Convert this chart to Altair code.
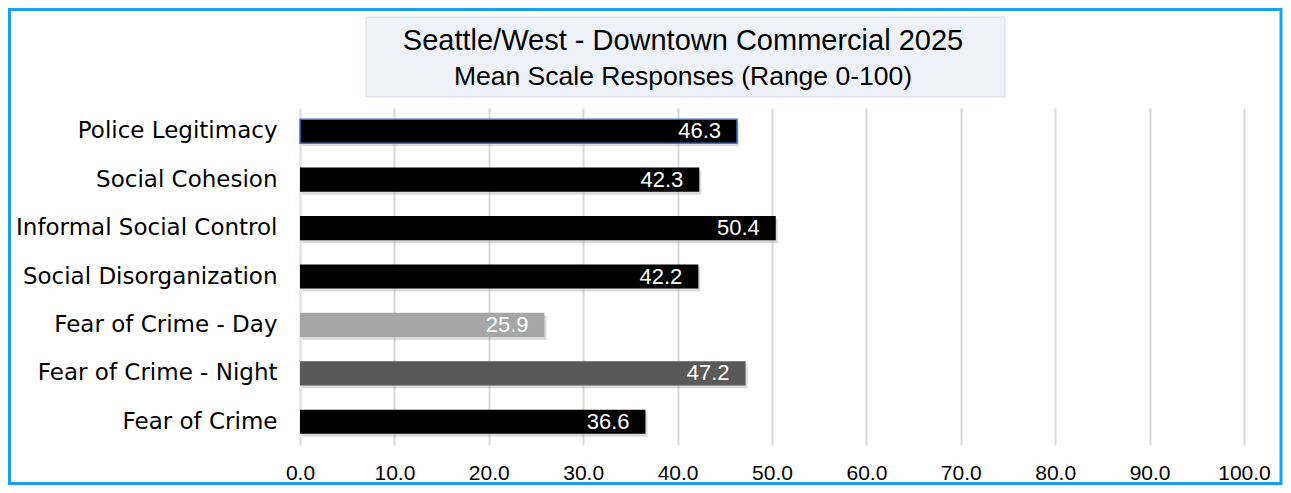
import altair as alt
import pandas as pd

categories = ["Police Legitimacy", "Social Cohesion", "Informal Social Control",
              "Social Disorganization", "Fear of Crime - Day", "Fear of Crime - Night",
              "Fear of Crime"]
values = [46.3, 42.3, 50.4, 42.2, 25.9, 47.2, 36.6]
bar_colors = ["#000000", "#000000", "#000000", "#000000", "#a6a6a6", "#595959", "#000000"]
tick_values = [0, 10, 20, 30, 40, 50, 60, 70, 80, 90, 100]
title_line1 = "Seattle/West - Downtown Commercial 2025"
title_line2 = "Mean Scale Responses (Range 0-100)"

df = pd.DataFrame({"category": categories, "value": values, "color": bar_colors,
                   "label": [f"{v:.1f}" for v in values]})

W, H = 944, 337
LABEL_FONT = "DejaVu Sans"

yscale = alt.Scale(paddingInner=0.5, paddingOuter=0.23)
xenc = alt.X("value:Q", title=None,
             scale=alt.Scale(domain=[0, 100], nice=False),
             axis=alt.Axis(values=tick_values, format=".1f", grid=True,
                           gridColor="#d9d9d9", gridWidth=2, ticks=False,
                           domain=False, labelFont="Liberation Sans", labelFontSize=21,
                           labelColor="#000000", labelPadding=17, labelFlush=False))

base = alt.Chart(df)

shadow = base.mark_bar(color="#9a9a9a", opacity=0.35, xOffset=2, yOffset=3).encode(
    x=xenc, y=alt.Y("category:N", sort=categories, title=None, scale=yscale))

bars = base.mark_bar().encode(
    x=xenc,
    y=alt.Y("category:N", sort=categories, title=None, scale=yscale,
            axis=alt.Axis(labelFont=LABEL_FONT, labelFontSize=23, labelColor="#000000",
                          labelPadding=23, ticks=False, domain=True,
                          domainColor="#dae3f3", domainWidth=1.5, labelLimit=400)),
    color=alt.Color("color:N", scale=None),
    stroke=alt.condition(alt.datum.category == "Police Legitimacy",
                         alt.value("#4472c4"), alt.value("transparent")),
    strokeWidth=alt.value(1.5),
)

labels = base.mark_text(align="right", baseline="middle", dx=-16, color="white",
                        font="Liberation Sans", fontSize=22).encode(
    x="value:Q", y=alt.Y("category:N", sort=categories), text="label:N")

deco = alt.Chart(pd.DataFrame({"t1": [title_line1], "t2": [title_line2]}))

border = deco.mark_rect(fill="white", fillOpacity=0, stroke="#1ba1e8",
                        strokeWidth=3).encode(
    x=alt.value(9.5 - 300), x2=alt.value(1281 - 300),
    y=alt.value(9.5 - 108), y2=alt.value(483.5 - 108))

title_box = deco.mark_rect(fill="#eef2f8", stroke="#d6dce5", strokeWidth=1).encode(
    x=alt.value(366 - 300), x2=alt.value(1005 - 300),
    y=alt.value(17 - 108), y2=alt.value(97 - 108))

t1 = deco.mark_text(font="Liberation Sans", fontSize=29, color="#000000",
                    align="center", baseline="alphabetic").encode(
    x=alt.value(683 - 300), y=alt.value(50 - 108), text="t1:N")
t2 = deco.mark_text(font="Liberation Sans", fontSize=26.5, color="#000000",
                    align="center", baseline="alphabetic").encode(
    x=alt.value(683 - 300), y=alt.value(85 - 108), text="t2:N")

chart = alt.layer(shadow, bars, labels, title_box, t1, t2, border).properties(
    width=W, height=H,
    autosize=alt.AutoSizeParams(type="none"),
    padding={"left": 292, "top": 100, "right": 39, "bottom": 40},
    background="white",
).configure_view(stroke=None)

chart.save("out.html", embed_options={"renderer": "svg", "actions": False})
